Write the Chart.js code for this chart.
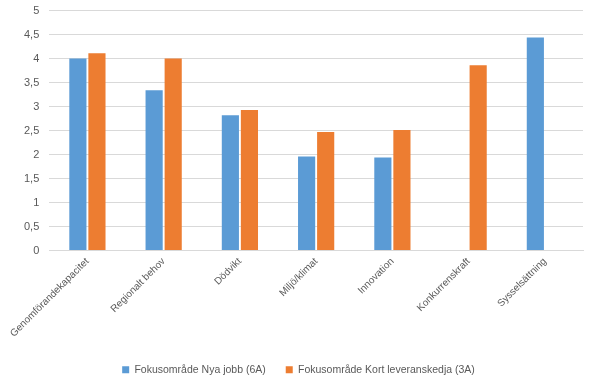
<!DOCTYPE html>
<html>
<head>
<meta charset="utf-8">
<script src="https://cdn.jsdelivr.net/npm/chart.js@4/dist/chart.umd.min.js"></script>
<style>
html,body{margin:0;padding:0;background:#fff;overflow:hidden;}
#wrap{width:589px;height:382px;position:relative;overflow:hidden;}
#c{position:absolute;left:0;top:-6px;}
</style>
</head>
<body>
<div id="wrap"><canvas id="c" width="589" height="388"></canvas></div>
<script>
const categories = ['Genomförandekapacitet','Regionalt behov','Dödvikt','Miljö/klimat','Innovation','Konkurrenskraft','Sysselsättning'];
const seriesNames = ['Fokusområde Nya jobb (6A)','Fokusområde Kort leveranskedja (3A)'];
const nyaJobb = [4.0, 3.34, 2.82, 1.96, 1.94, null, 4.44];
const kortLeveranskedja = [4.11, 4.0, 2.93, 2.47, 2.51, 3.86, null];
const yTickLabels = ['0','0,5','1','1,5','2','2,5','3','3,5','4','4,5','5'];

const fontFam = '"Liberation Sans", "DejaVu Sans", sans-serif';
new Chart(document.getElementById('c'), {
  type: 'bar',
  data: {
    labels: categories,
    datasets: [
      {label: seriesNames[0], data: nyaJobb, backgroundColor: '#5B9BD5', barPercentage: 0.9, categoryPercentage: 0.5},
      {label: seriesNames[1], data: kortLeveranskedja, backgroundColor: '#ED7D31', barPercentage: 0.9, categoryPercentage: 0.5}
    ]
  },
  options: {
    responsive: false,
    animation: false,
    devicePixelRatio: 1,
    layout: {padding: {top: 0, right: 6, left: 14, bottom: -3}},
    plugins: {
      tooltip: {enabled: false},
      legend: {
        position: 'bottom',
        labels: {
          boxWidth: 7, boxHeight: 7, color: '#595959',
          font: {family: fontFam, size: 10.5},
          padding: 20
        }
      }
    },
    scales: {
      x: {
        grid: {display: false, drawTicks: false},
        border: {display: true, color: '#D9D9D9'},
        ticks: {
          color: '#595959', font: {family: fontFam, size: 10},
          maxRotation: 45, minRotation: 45, padding: 5
        }
      },
      y: {
        min: 0, max: 5,
        grid: {color: '#D9D9D9', drawTicks: false},
        border: {display: false},
        ticks: {
          stepSize: 0.5, color: '#595959', font: {family: fontFam, size: 11}, padding: 10,
          callback: function(v, i){ return yTickLabels[i]; }
        }
      }
    }
  }
});
</script>
</body>
</html>
